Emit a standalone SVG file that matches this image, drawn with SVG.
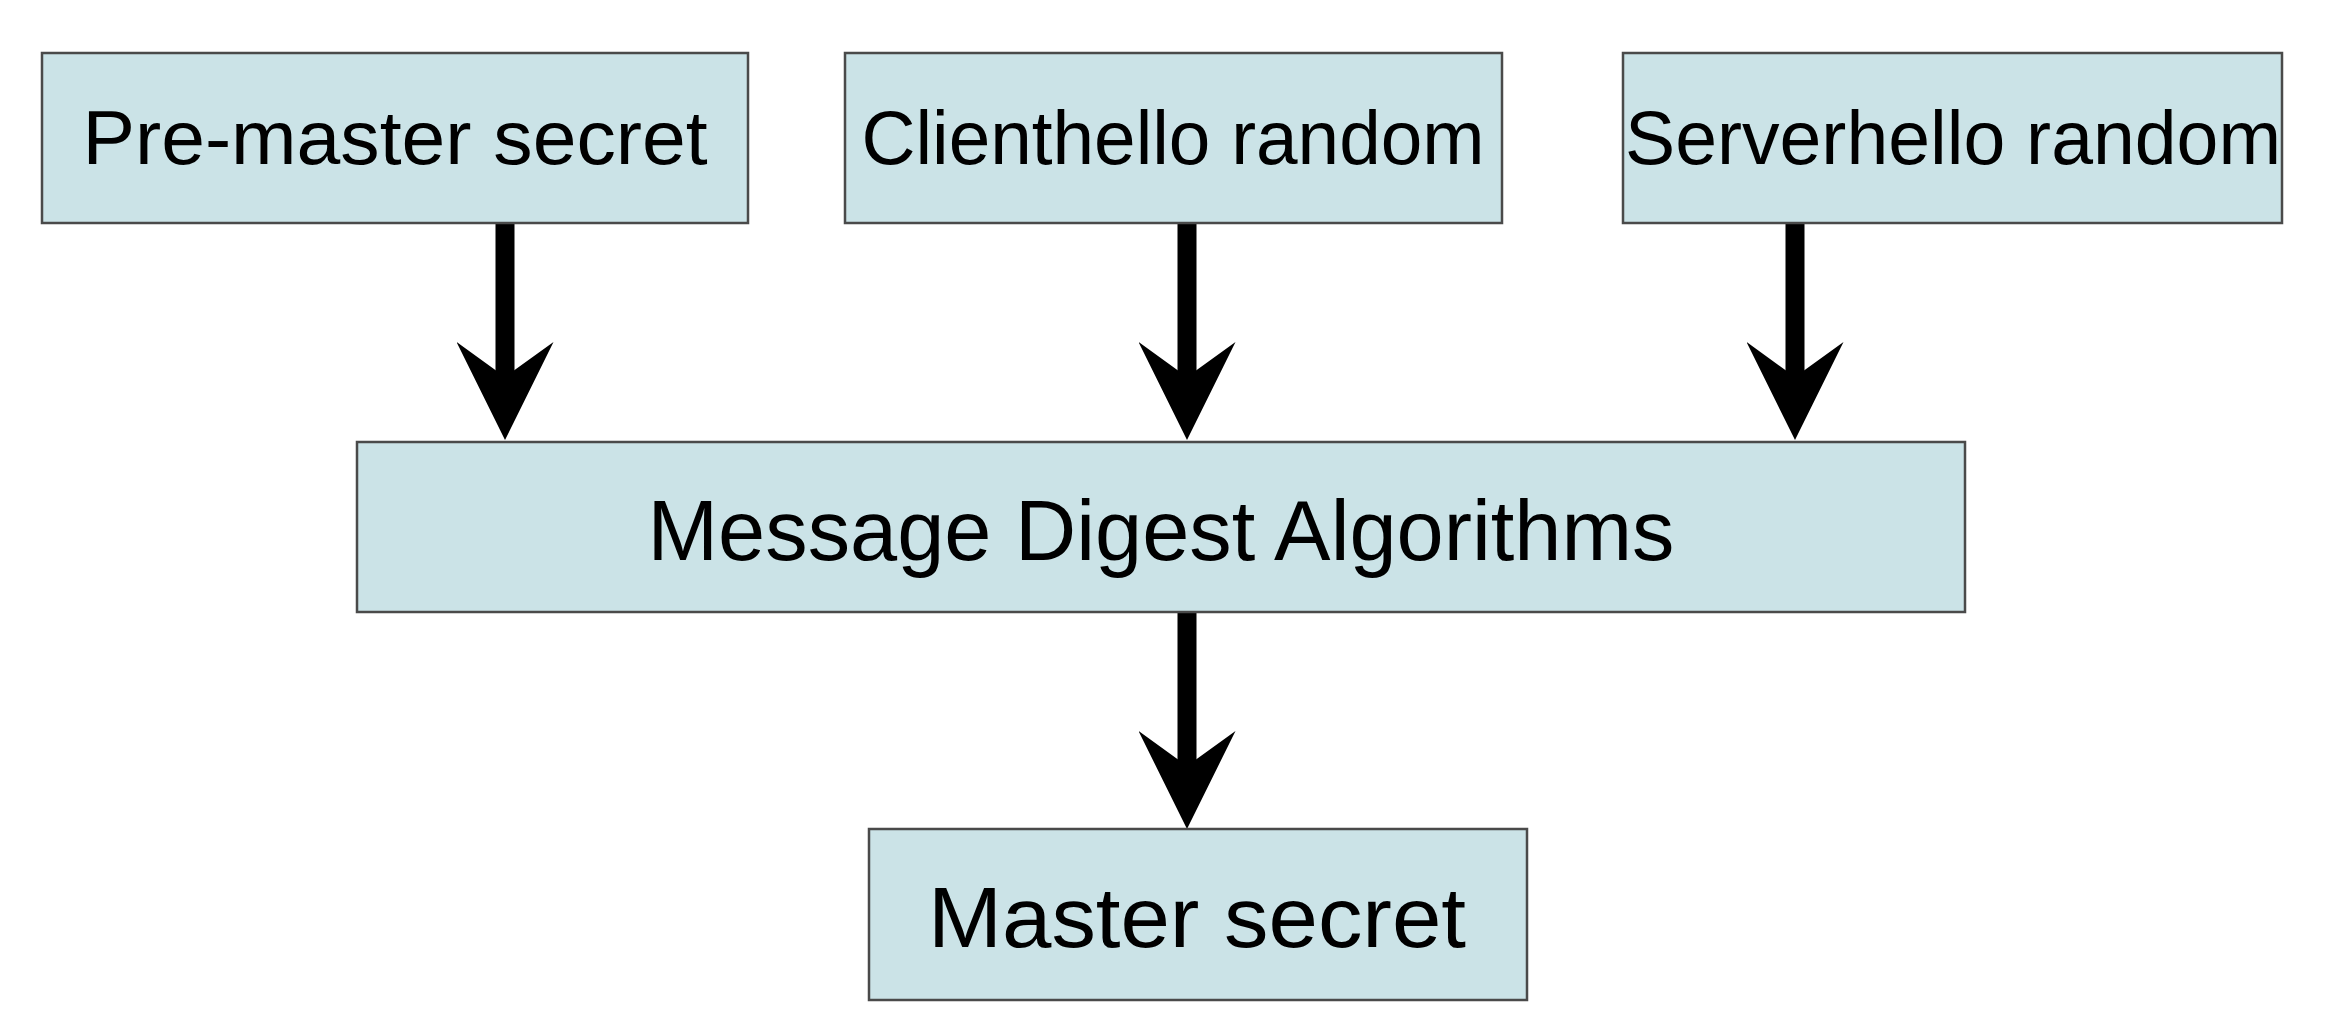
<svg xmlns="http://www.w3.org/2000/svg" width="2349" height="1026" viewBox="0 0 2349 1026">
  <style>
    .box { fill: #CBE3E7; stroke: #4a4a4a; stroke-width: 2.5; }
    .lbl { font-family: "Liberation Sans", "DejaVu Sans", sans-serif; fill: #000; text-anchor: middle; }
    .sm { font-size: 76px; }
    .lg { font-size: 86px; }
    .shaft { stroke: #000; stroke-width: 19; fill: none; marker-end: url(#head); }
  </style>
  <defs>
    <marker id="head" markerUnits="userSpaceOnUse" viewBox="0 0 98 97" markerWidth="98" markerHeight="97" refX="35" refY="48.5" orient="auto">
      <path d="M0,0 L98,48.5 L0,97 L35,48.5 Z" fill="#000"/>
    </marker>
  </defs>
  <rect width="2349" height="1026" fill="#ffffff"/>

  <g id="connectors">
    <line class="shaft" x1="505" y1="223" x2="505" y2="377"/>
    <line class="shaft" x1="1187" y1="223" x2="1187" y2="377"/>
    <line class="shaft" x1="1795" y1="223" x2="1795" y2="377"/>
    <line class="shaft" x1="1187" y1="612" x2="1187" y2="766"/>
  </g>

  <g id="pre-master">
    <rect class="box" x="42" y="53" width="706" height="170"/>
    <text class="lbl sm" x="395" y="164" textLength="625" lengthAdjust="spacingAndGlyphs">Pre-master secret</text>
  </g>
  <g id="clienthello">
    <rect class="box" x="845" y="53" width="657" height="170"/>
    <text class="lbl sm" x="1173" y="164" textLength="623" lengthAdjust="spacingAndGlyphs">Clienthello random</text>
  </g>
  <g id="serverhello">
    <rect class="box" x="1623" y="53" width="659" height="170"/>
    <text class="lbl sm" x="1953" y="164" textLength="656" lengthAdjust="spacingAndGlyphs">Serverhello random</text>
  </g>
  <g id="digest">
    <rect class="box" x="357" y="442" width="1608" height="170"/>
    <text class="lbl lg" x="1161" y="560" textLength="1027" lengthAdjust="spacingAndGlyphs">Message Digest Algorithms</text>
  </g>
  <g id="master">
    <rect class="box" x="869" y="829" width="658" height="171"/>
    <text class="lbl lg" x="1197" y="947" textLength="538" lengthAdjust="spacingAndGlyphs">Master secret</text>
  </g>
</svg>
